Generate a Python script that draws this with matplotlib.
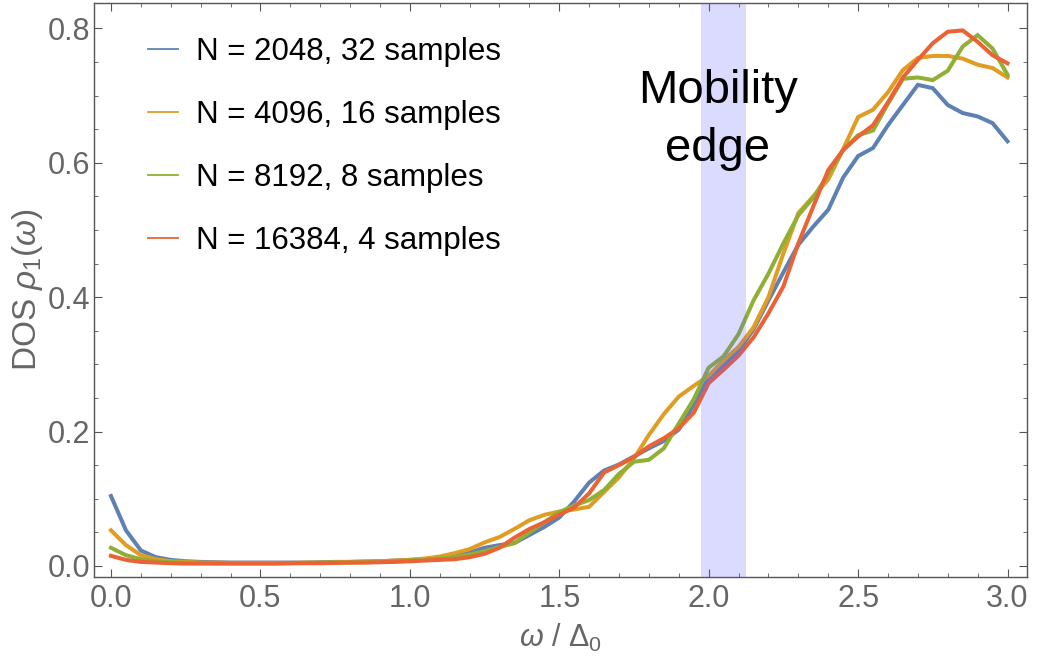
import numpy as np
import matplotlib
matplotlib.use("Agg")
import matplotlib.pyplot as plt
from matplotlib.lines import Line2D
from matplotlib.ticker import MultipleLocator, FormatStrFormatter

plt.rcParams['font.family'] = ['Liberation Sans', 'DejaVu Sans']
plt.rcParams['mathtext.fontset'] = 'custom'
plt.rcParams['mathtext.rm'] = 'Liberation Sans'
plt.rcParams['mathtext.it'] = 'Liberation Sans:italic'

omega = np.round(np.arange(61) * 0.05, 2)

dos_2048 = [0.104, 0.053, 0.023, 0.013, 0.009, 0.007, 0.006, 0.0055, 0.005, 0.005,
            0.005, 0.005, 0.005, 0.005, 0.0055, 0.006, 0.006, 0.0065, 0.007, 0.008,
            0.009, 0.010, 0.012, 0.015, 0.020, 0.027, 0.031, 0.034, 0.046, 0.058,
            0.072, 0.096, 0.124, 0.142, 0.151, 0.163, 0.175, 0.186, 0.203, 0.240,
            0.280, 0.298, 0.320, 0.352, 0.395, 0.437, 0.478, 0.505, 0.530, 0.578,
            0.610, 0.622, 0.656, 0.686, 0.716, 0.711, 0.686, 0.674, 0.669, 0.659, 0.632]
dos_4096 = [0.053, 0.031, 0.016, 0.010, 0.007, 0.006, 0.005, 0.005, 0.0045, 0.0045,
            0.0045, 0.0045, 0.0045, 0.005, 0.005, 0.0055, 0.006, 0.0065, 0.007, 0.008,
            0.009, 0.011, 0.014, 0.019, 0.025, 0.035, 0.043, 0.055, 0.068, 0.076,
            0.081, 0.084, 0.088, 0.110, 0.132, 0.160, 0.195, 0.226, 0.252, 0.268,
            0.283, 0.306, 0.326, 0.355, 0.400, 0.465, 0.525, 0.550, 0.575, 0.620,
            0.668, 0.679, 0.705, 0.738, 0.756, 0.759, 0.759, 0.755, 0.746, 0.741, 0.727]
dos_8192 = [0.027, 0.016, 0.010, 0.007, 0.0055, 0.005, 0.0045, 0.004, 0.004, 0.004,
            0.004, 0.004, 0.004, 0.0045, 0.0045, 0.005, 0.005, 0.0055, 0.006, 0.007,
            0.008, 0.009, 0.011, 0.013, 0.017, 0.022, 0.028, 0.034, 0.050, 0.065,
            0.080, 0.090, 0.098, 0.113, 0.137, 0.155, 0.158, 0.175, 0.212, 0.248,
            0.295, 0.312, 0.345, 0.395, 0.435, 0.480, 0.522, 0.548, 0.583, 0.619,
            0.641, 0.648, 0.688, 0.725, 0.727, 0.723, 0.737, 0.773, 0.790, 0.770, 0.731]
dos_16384 = [0.015, 0.009, 0.006, 0.005, 0.004, 0.0035, 0.0035, 0.0035, 0.0035, 0.0035,
             0.0035, 0.0035, 0.004, 0.004, 0.004, 0.0045, 0.005, 0.005, 0.0055, 0.006,
             0.007, 0.008, 0.009, 0.010, 0.013, 0.018, 0.027, 0.042, 0.055, 0.065,
             0.076, 0.087, 0.108, 0.139, 0.150, 0.162, 0.178, 0.190, 0.205, 0.228,
             0.272, 0.292, 0.313, 0.340, 0.376, 0.416, 0.480, 0.535, 0.589, 0.619,
             0.639, 0.656, 0.690, 0.727, 0.753, 0.778, 0.795, 0.797, 0.780, 0.760, 0.748]

labels = ["N = 2048, 32 samples", "N = 4096, 16 samples",
          "N = 8192, 8 samples", "N = 16384, 4 samples"]
colors = ["#5E81B5", "#E19C24", "#8FB032", "#EB6235"]
band = (1.975, 2.125)

fig = plt.figure(figsize=(10.37, 6.64), dpi=100)
ax = fig.add_axes([0.0909, 0.1315, 0.8991, 0.8647])

for ys, c in zip([dos_2048, dos_4096, dos_8192, dos_16384], colors):
    ax.plot(omega, ys, color=c, lw=2.9, solid_joinstyle='miter', zorder=2)

ax.axvspan(band[0], band[1], color='#6666ff', alpha=0.23, lw=0, zorder=3)

ax.text(2.03, 0.664, "Mobility\nedge", fontsize=34, ha='center', va='center',
        linespacing=1.4, color='black', zorder=4)

ax.set_xlim(-0.056, 3.064)
ax.set_ylim(-0.016, 0.8385)
ax.xaxis.set_major_locator(MultipleLocator(0.5))
ax.xaxis.set_minor_locator(MultipleLocator(0.1))
ax.yaxis.set_major_locator(MultipleLocator(0.2))
ax.yaxis.set_minor_locator(MultipleLocator(0.05))
ax.xaxis.set_major_formatter(FormatStrFormatter('%.1f'))
ax.yaxis.set_major_formatter(FormatStrFormatter('%.1f'))

ax.tick_params(which='both', direction='in', top=True, right=True,
               color='#555555', labelcolor='#666666', labelsize=22)
ax.tick_params(which='major', length=5.5, width=0.8)
ax.tick_params(which='minor', length=3, width=0.6)
ax.tick_params(axis='x', which='major', pad=5)
ax.tick_params(axis='y', which='major', pad=3)
for s in ax.spines.values():
    s.set_color('#555555')
    s.set_linewidth(1.0)

ax.set_xlabel(r'$\omega$ / $\Delta_0$', fontsize=22, color='#666666', labelpad=6)
ax.set_ylabel(r'DOS $\rho_1(\omega)$', fontsize=24, color='#666666', labelpad=2)

handles = [Line2D([], [], color=c, lw=1.3) for c in colors]
leg = ax.legend(handles, labels, loc='upper left', bbox_to_anchor=(0.0573, 0.9394),
                frameon=False, fontsize=22.5, handlelength=0.98, handletextpad=0.57,
                labelspacing=1.05, borderaxespad=0, borderpad=0)

fig.savefig("out.png", dpi=100)
